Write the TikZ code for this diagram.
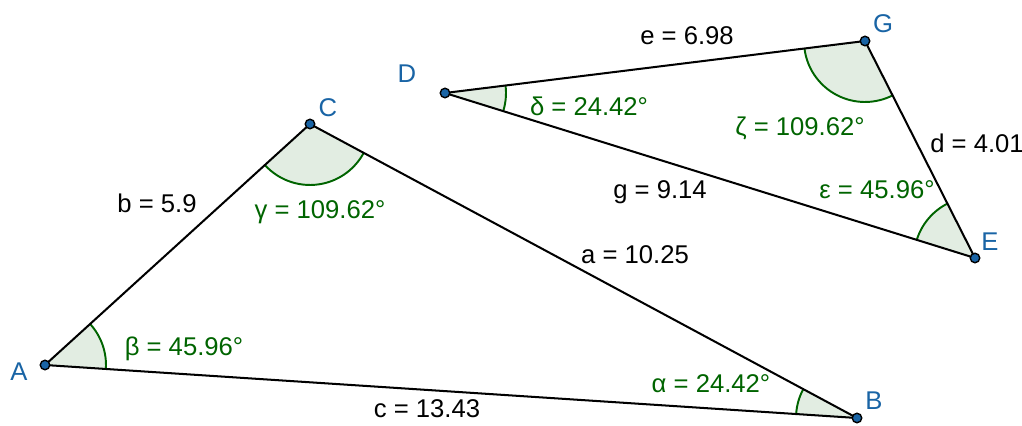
\documentclass[tikz,border=0pt]{standalone}
\usepackage{fontspec}
\setmainfont{Liberation Sans}
\usepackage{tikz}
\usetikzlibrary{angles}
\definecolor{pointblue}{RGB}{25, 100, 165}
\definecolor{anglegreen}{RGB}{0, 100, 0}
\definecolor{anglefill}{RGB}{226, 237, 226}
\tikzset{
  font=\fontsize{14.6}{16}\selectfont,
  edgeline/.style={draw=black, line width=1.15pt},
  anglemark/.style={
    draw=anglegreen, fill=anglefill, line width=1.1pt,
    angle radius=1.22cm
  },
  pointdot/.style={
    circle, draw=black, fill=pointblue, line width=0.8pt,
    inner sep=0pt, minimum size=0.19cm
  },
  pointlabel/.style={text=pointblue, anchor=base, inner sep=0pt},
  sidelabel/.style={text=black, anchor=base, inner sep=0pt},
  anglelabel/.style={text=anglegreen, anchor=base, inner sep=0pt}
}

\begin{document}
\begin{tikzpicture}[x=0.02cm, y=-0.02cm]

  \useasboundingbox (0,0) rectangle (1022,426);

  % Triangle ABC
  \coordinate (A) at (45,365);
  \coordinate (B) at (857,418);
  \coordinate (C) at (310,124);

  % Triangle DGE
  \coordinate (D) at (445,93);
  \coordinate (G) at (865,41);
  \coordinate (E) at (975,258);

  % Angles
  \pic[anglemark] {angle = B--A--C};
  \pic[anglemark] {angle = A--C--B};
  \pic[anglemark] {angle = C--B--A};
  \pic[anglemark] {angle = E--D--G};
  \pic[anglemark] {angle = D--G--E};
  \pic[anglemark] {angle = G--E--D};

  % Sides
  \draw[edgeline] (A) -- (B);
  \draw[edgeline] (B) -- (C);
  \draw[edgeline] (C) -- (A);
  \draw[edgeline] (D) -- (G);
  \draw[edgeline] (G) -- (E);
  \draw[edgeline] (E) -- (D);

  % Points
  \node[pointdot] (Adot) at (A) {};
  \node[pointdot] (Bdot) at (B) {};
  \node[pointdot] (Cdot) at (C) {};
  \node[pointdot] (Ddot) at (D) {};
  \node[pointdot] (Gdot) at (G) {};
  \node[pointdot] (Edot) at (E) {};

  \node[pointlabel] (Alab) at (19,380) {A};
  \node[pointlabel] (Blab) at (874,409) {B};
  \node[pointlabel] (Clab) at (328,116) {C};
  \node[pointlabel] (Dlab) at (407,82) {D};
  \node[pointlabel] (Glab) at (883,32) {G};
  \node[pointlabel] (Elab) at (990,250) {E};

  % Side lengths
  \node[sidelabel] (blab) at (157,212) {b = 5.9};
  \node[sidelabel] (alab) at (635,263) {a = 10.25};
  \node[sidelabel] (clab) at (427,417) {c = 13.43};
  \node[sidelabel] (elab) at (687,45) {e = 6.98};
  \node[sidelabel] (glab) at (660,198) {g = 9.14};
  \node[sidelabel] (dlab) at (977,152) {d = 4.01};

  % Angle values
  \node[anglelabel] (betalab) at (184,355) {β = 45.96°};
  \node[anglelabel] (gammalab) at (320,218) {γ = 109.62°};
  \node[anglelabel] (alphalab) at (711,392) {α = 24.42°};
  \node[anglelabel] (deltalab) at (589,115) {δ = 24.42°};
  \node[anglelabel] (zetalab) at (800,135) {ζ = 109.62°};
  \node[anglelabel] (epslab) at (877,198) {ε = 45.96°};

\end{tikzpicture}
\end{document}
